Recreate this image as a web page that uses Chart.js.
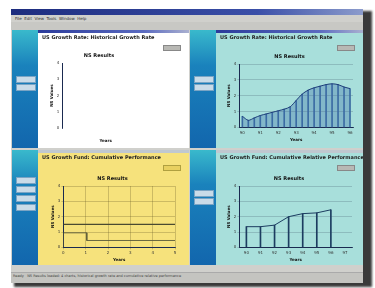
<!DOCTYPE html>
<html>
<head>
<meta charset="utf-8">
<script src="https://cdn.jsdelivr.net/npm/chart.js@4"></script>
<style>
  body { margin: 0; width: 375px; height: 288px; background: #fff; overflow: hidden; font-family: "DejaVu Sans", sans-serif; position: relative; }
  .shadow { position: absolute; left: 14px; top: 11px; width: 358px; height: 276px; background: #3a3a3a; filter: blur(1px); }
  .win { position: absolute; left: 11px; top: 9px; width: 352px; height: 273px; background: #d0d0cc; }
  .titlebar { position: absolute; left: 0; top: 0; width: 352px; height: 6px; background: linear-gradient(90deg, #1d2c7e, #3a4fa8 70%, #8c9ccc); }
  .menubar { position: absolute; left: 4px; top: 7px; font-size: 4px; color: #333; }
  .toolbar { position: absolute; left: 0; top: 13px; width: 352px; height: 8px; background: #c8c8c4; }
  .panel { position: absolute; overflow: hidden; }
  .side { position: absolute; left: 0; top: 0; width: 26px; height: 100%; background: linear-gradient(180deg, #39b9cc 0%, #1a82bc 30%, #1266ad 100%); }
  .btn { position: absolute; left: 4px; width: 18px; height: 5px; background: #c9dbe8; border: 1px solid #7aa4c4; }
  .tab { position: absolute; left: 26px; top: 0; right: 0; height: 3px; background: linear-gradient(90deg, #2a3a9a, #5a6ac0 70%, #aab0d0); }
  .head { position: absolute; left: 30px; top: 4px; font-size: 5px; font-weight: bold; color: #202020; white-space: nowrap; }
  .small { position: absolute; right: 8px; top: 15px; width: 16px; height: 4px; background: #b8b8b4; border: 1px solid #888; }
  .body { position: absolute; left: 26px; top: 3px; right: 0; bottom: 0; }
  .body canvas { position: absolute; left: 0; top: 8px; }
  .status { position: absolute; left: 2px; top: 257px; font-size: 3.5px; color: #444; white-space: nowrap; }
  .status2 { position: absolute; left: 0; top: 263px; width: 352px; height: 10px; background: #c4c4c0; border-top: 1px solid #aaa; }
</style>
</head>
<body>
<div class="shadow"></div>
<div class="win">
  <div class="titlebar"></div>
  <div class="menubar">File &nbsp;Edit &nbsp;View &nbsp;Tools &nbsp;Window &nbsp;Help</div>
  <div class="toolbar"></div>

  <div class="panel" style="left:1px; top:21px; width:177px; height:118px;">
    <div class="side"><div class="btn" style="top:46px"></div><div class="btn" style="top:54px"></div></div>
    <div class="body" style="background:#ffffff"><canvas id="c1" width="151" height="107"></canvas></div>
    <div class="tab"></div>
    <div class="head">US Growth Rate: Historical Growth Rate</div>
    <div class="small"></div>
  </div>

  <div class="panel" style="left:179px; top:21px; width:173px; height:118px;">
    <div class="side"><div class="btn" style="top:46px"></div><div class="btn" style="top:54px"></div></div>
    <div class="body" style="background:#a8dfdb"><canvas id="c2" width="147" height="107"></canvas></div>
    <div class="tab"></div>
    <div class="head">US Growth Rate: Historical Growth Rate</div>
    <div class="small"></div>
  </div>

  <div class="panel" style="left:1px; top:141px; width:177px; height:115px;">
    <div class="side"><div class="btn" style="top:27px"></div><div class="btn" style="top:36px"></div><div class="btn" style="top:45px"></div><div class="btn" style="top:54px"></div></div>
    <div class="body" style="background:#f6e27c"><canvas id="c3" width="151" height="104"></canvas></div>
    <div class="tab" style="background:#c0c8d0"></div>
    <div class="head">US Growth Fund: Cumulative Performance</div>
    <div class="small" style="background:#e8d060; border-color:#b0a040"></div>
  </div>

  <div class="panel" style="left:179px; top:141px; width:173px; height:115px;">
    <div class="side"><div class="btn" style="top:40px"></div><div class="btn" style="top:48px"></div></div>
    <div class="body" style="background:#a8dfdb"><canvas id="c4" width="147" height="104"></canvas></div>
    <div class="tab" style="background:#c0c8d0"></div>
    <div class="head">US Growth Fund: Cumulative Relative Performance</div>
    <div class="small"></div>
  </div>

  <div class="status2"></div>
  <div class="status" style="top:265px">Ready &nbsp; NS Results loaded: 4 charts, historical growth rate and cumulative relative performance</div>
</div>

<script>
const emptyYears = ['1990', '1992', '1994', '1996', '1998', '2000'];
const emptyValues = [null, null, null, null, null, null];

const growthYears = ['90', '', '', '91', '', '', '92', '', '', '93', '', '', '94', '', '', '95', '', '', '96'];
const growthValues = [0.7, 0.45, 0.6, 0.75, 0.85, 0.95, 1.05, 1.15, 1.3, 1.7, 2.1, 2.35, 2.5, 2.6, 2.7, 2.75, 2.7, 2.55, 2.45];

const stepX = [0, 0, 1.05, 1.05, 5];
const stepY = [0, 0.95, 0.95, 0.45, 0.45];
const limitX = [0, 5];
const limitY = [1.5, 1.5];

const cumYears = ['90', '91', '92', '93', '94', '95', '96', '97'];
const cumValues = [1.35, 1.35, 1.45, 2.0, 2.2, 2.25, 2.45, null];

const FONT = { family: 'DejaVu Sans', size: 4 };
const INK = '#1a2a50';

function baseOptions(yMax, pad) {
  return {
    responsive: false,
    animation: false,
    layout: { padding: pad },
    plugins: {
      legend: { display: false },
      tooltip: { enabled: false },
      title: { display: true, text: 'NS Results', color: '#111', font: { family: 'DejaVu Sans', size: 5, weight: 'bold' }, padding: { top: 0, bottom: 4 } },
    },
    scales: {
      x: {
        grid: { color: 'rgba(40,60,80,0.35)', lineWidth: 0.6, tickLength: 2 },
        border: { color: INK },
        ticks: { font: FONT, color: '#333', maxRotation: 0, autoSkip: false, padding: 1 },
        title: { display: true, text: 'Years', font: { family: 'DejaVu Sans', size: 4, weight: 'bold' }, color: '#111', padding: 1 },
      },
      y: {
        min: 0, max: yMax,
        grid: { color: 'rgba(40,60,80,0.35)', lineWidth: 0.6, tickLength: 2 },
        border: { color: INK },
        ticks: { font: FONT, color: '#333', stepSize: 1, padding: 1 },
        title: { display: true, text: 'NS Values', font: { family: 'DejaVu Sans', size: 4, weight: 'bold' }, color: '#111', padding: 1 },
      },
    },
  };
}

// top left: empty chart
const o1 = baseOptions(4, { left: 11, right: 40, top: 12, bottom: 5 });
o1.scales.x.grid.display = false;
o1.scales.y.grid.display = false;
o1.scales.x.ticks.display = false;
o1.scales.x.border.display = false;
o1.scales.x.title.padding = { top: 8, bottom: 0 };
new Chart(document.getElementById('c1'), {
  type: 'line',
  data: { labels: emptyYears, datasets: [{ data: emptyValues }] },
  options: o1,
});

// top right: growth area with drop lines
const o2 = baseOptions(4, { left: 10, right: 10, top: 13, bottom: 5 });
o2.scales.x.grid.display = false;
new Chart(document.getElementById('c2'), {
  data: {
    labels: growthYears,
    datasets: [
      { type: 'line', data: growthValues, borderColor: '#1c3c78', borderWidth: 1, pointRadius: 0, tension: 0.3, fill: 'origin', backgroundColor: 'rgba(60,110,170,0.35)' },
      { type: 'bar', data: growthValues, backgroundColor: '#3a6aa0', barThickness: 1 },
    ],
  },
  options: o2,
});

// bottom left: step + limit line
const o3 = baseOptions(4, { left: 12, right: 14, top: 15, bottom: 2 });
o3.scales.x.type = 'linear';
o3.scales.x.min = 0;
o3.scales.x.max = 5;
o3.scales.x.ticks.stepSize = 1;
o3.scales.x.grid.color = 'rgba(90,80,30,0.45)';
o3.scales.y.grid.color = 'rgba(90,80,30,0.45)';
new Chart(document.getElementById('c3'), {
  type: 'line',
  data: {
    datasets: [
      { data: limitX.map((x, i) => ({ x, y: limitY[i] })), borderColor: '#4a4a30', borderWidth: 1.2, pointRadius: 0 },
      { data: stepX.map((x, i) => ({ x, y: stepY[i] })), borderColor: '#5a5a3a', borderWidth: 0.9, pointRadius: 0 },
    ],
  },
  options: o3,
});

// bottom right: cumulative with drop lines
const o4 = baseOptions(4, { left: 10, right: 11, top: 15, bottom: 2 });
o4.scales.x.grid.display = false;
new Chart(document.getElementById('c4'), {
  data: {
    labels: cumYears,
    datasets: [
      { type: 'line', data: cumValues, borderColor: '#1c3c60', borderWidth: 1, pointRadius: 0 },
      { type: 'bar', data: cumValues, backgroundColor: '#1c3c60', barThickness: 1 },
    ],
  },
  options: o4,
});
</script>
</body>
</html>
